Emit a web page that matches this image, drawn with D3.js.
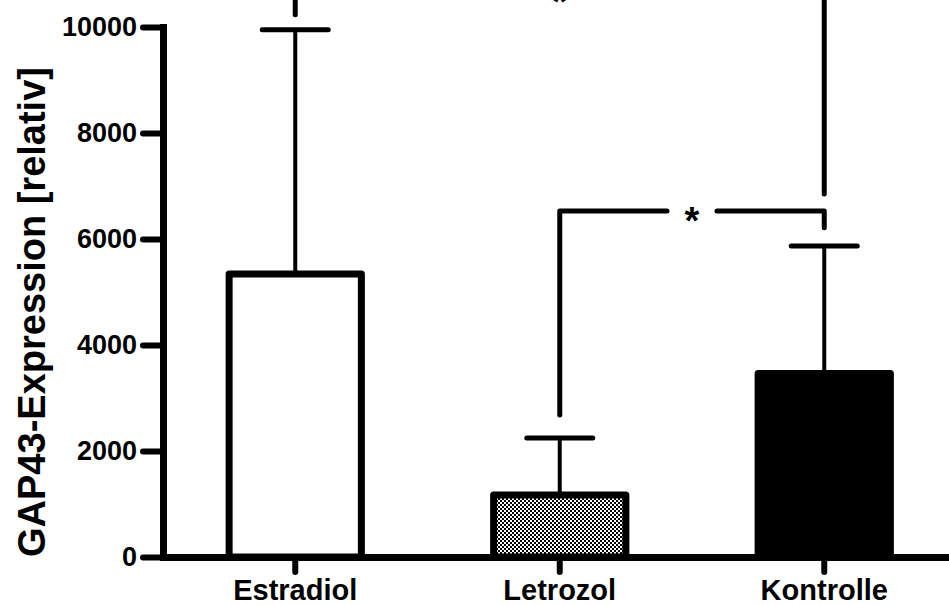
<!DOCTYPE html>
<html>
<head>
<meta charset="utf-8">
<script src="https://cdn.jsdelivr.net/npm/d3@7"></script>
<style>
  html, body { margin: 0; padding: 0; background: #fff; }
  svg { display: block; }
  text { font-family: "Liberation Sans", Arial, sans-serif; font-weight: bold; fill: #000; }
</style>
</head>
<body>
<svg id="chart" width="949" height="605"></svg>
<script>
// ---- data ----
const categories = ["Estradiol", "Letrozol", "Kontrolle"];
const means = [5340, 1170, 3460];
const sds = [4610, 1075, 2410];         // error bar = mean + sd
const fills = ["white", "pattern", "black"];
const yTicks = [0, 2000, 4000, 6000, 8000, 10000];
const yTitle = "GAP43-Expression [relativ]";
// significance brackets: [from, to, bracket height, leg bottom at "from", leg bottom at "to", label]
const brackets = [
  ["Letrozol", "Kontrolle", 6530, 2680, 6210, "*"],
  ["Estradiol", "Kontrolle", 10660, 10230, 6850, "*"]
];

const svg = d3.select("#chart");
const defs = svg.append("defs");
const pat = defs.append("pattern").attr("id", "checker")
  .attr("patternUnits", "userSpaceOnUse").attr("width", 4).attr("height", 4);
pat.append("rect").attr("width", 4).attr("height", 4).attr("fill", "#fff");
pat.append("rect").attr("x", 0).attr("y", 0).attr("width", 2).attr("height", 2).attr("fill", "#000");
pat.append("rect").attr("x", 2).attr("y", 2).attr("width", 2).attr("height", 2).attr("fill", "#000");

const y = d3.scaleLinear().domain([0, 10000]).range([557, 27]);
const x = d3.scaleBand().domain(categories).range([163, 956.5]).paddingInner(0.5).paddingOuter(0.25);
const cx = c => x(c) + x.bandwidth() / 2;

const rows = categories.map((c, i) => ({ c, m: means[i], s: sds[i], f: fills[i] }));

// error bars (behind bars)
const eb = svg.append("g");
eb.selectAll("line.v").data(rows).join("line")
  .attr("x1", d => cx(d.c)).attr("x2", d => cx(d.c))
  .attr("y1", d => y(d.m)).attr("y2", d => y(d.m + d.s))
  .attr("stroke", "#000").attr("stroke-width", 4);
eb.selectAll("line.c").data(rows).join("line")
  .attr("x1", d => cx(d.c) - 33).attr("x2", d => cx(d.c) + 33)
  .attr("y1", d => y(d.m + d.s)).attr("y2", d => y(d.m + d.s))
  .attr("stroke", "#000").attr("stroke-width", 5).attr("stroke-linecap", "round");

// bars
svg.append("g").selectAll("rect").data(rows).join("rect")
  .attr("x", d => x(d.c)).attr("width", x.bandwidth())
  .attr("y", d => y(d.m)).attr("height", d => y(0) - y(d.m))
  .attr("fill", d => d.f === "pattern" ? "url(#checker)" : d.f)
  .attr("stroke", "#000").attr("stroke-width", 7).attr("stroke-linejoin", "round");

// significance brackets
const bg = svg.append("g");
brackets.forEach(b => {
  const x1 = cx(b[0]), x2 = cx(b[1]), yy = y(b[2]);
  const mid = (x1 + x2) / 2;
  const gap = 25;
  bg.append("path")
    .attr("d", `M${x1},${y(b[3])}V${yy}H${mid - gap}`)
    .attr("fill", "none").attr("stroke", "#000").attr("stroke-width", 5)
    .attr("stroke-linejoin", "round").attr("stroke-linecap", "round");
  bg.append("path")
    .attr("d", `M${mid + gap},${yy}H${x2}V${y(b[4])}`)
    .attr("fill", "none").attr("stroke", "#000").attr("stroke-width", 5)
    .attr("stroke-linejoin", "round").attr("stroke-linecap", "round");
  bg.append("text").attr("x", mid).attr("y", yy + 23)
    .attr("text-anchor", "middle").style("font-size", "38px").text(b[5]);
});

// y axis
const ya = svg.append("g").attr("transform", "translate(163,0)")
  .call(d3.axisLeft(y).tickValues(yTicks).tickFormat(d3.format("d")).tickSize(20).tickPadding(6).tickSizeOuter(0));
ya.select(".domain").attr("stroke-width", 7).attr("stroke-linecap", "square");
ya.selectAll(".tick line").attr("stroke-width", 6).attr("stroke-linecap", "round");
ya.selectAll(".tick text").style("font-size", "27px").style("font-family", "Liberation Sans, Arial, sans-serif").style("font-weight", "bold");

// x axis
const xa = svg.append("g").attr("transform", "translate(0,557)")
  .call(d3.axisBottom(x).tickSize(15).tickSizeOuter(0));
xa.select(".domain").attr("stroke-width", 7);
xa.selectAll(".tick line").attr("stroke-width", 6).attr("stroke-linecap", "round");
xa.selectAll(".tick text").attr("y", 43).attr("dy", 0)
  .style("font-size", "29px").style("font-family", "Liberation Sans, Arial, sans-serif").style("font-weight", "bold");

// y title
svg.append("text").attr("transform", "translate(45,312) rotate(-90)")
  .attr("text-anchor", "middle").style("font-size", "38px").text(yTitle);
</script>
</body>
</html>
